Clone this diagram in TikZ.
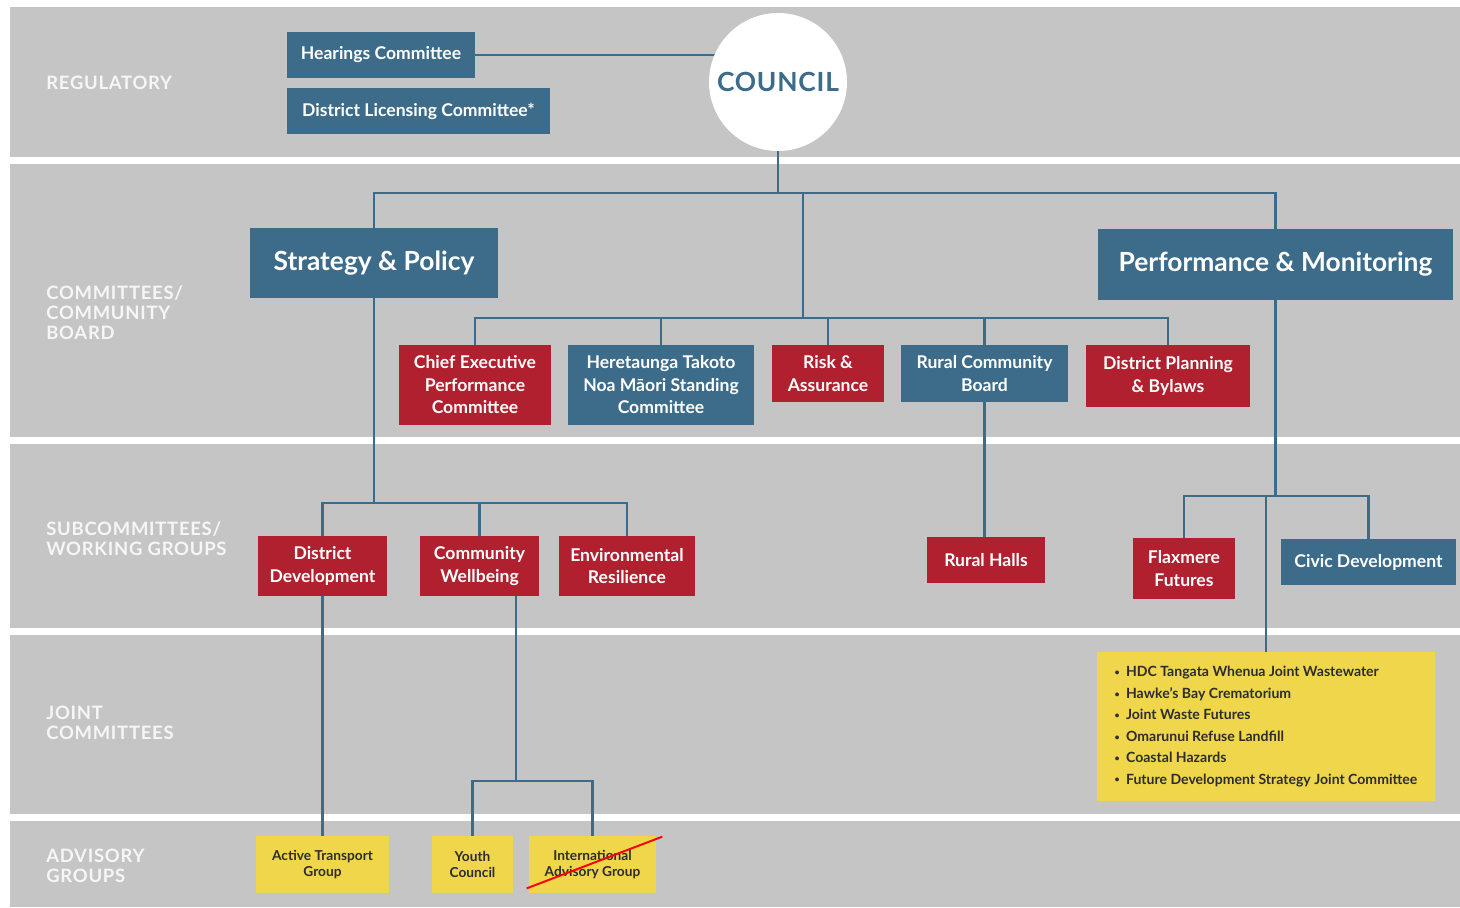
\documentclass[tikz,border=0pt]{standalone}
\usepackage{fontspec}
\setmainfont{Lato}
\usetikzlibrary{calc}
\definecolor{hblue}{RGB}{61,107,138}
\definecolor{hred}{RGB}{176,32,46}
\definecolor{hyellow}{RGB}{240,214,74}
\definecolor{hgray}{RGB}{197,197,197}
\definecolor{htext}{RGB}{45,45,45}
\definecolor{hlabel}{RGB}{246,246,246}
\pgfdeclarelayer{bg}
\pgfsetlayers{bg,main}
\tikzset{
  bx/.style n args={4}{minimum width={(#3-#1)*0.02cm}, minimum height={(#4-#2)*0.02cm}, at={({(#1+#3)/2},{(#2+#4)/2})}},
  box/.style={inner sep=0pt, text=white, align=center, font=\bfseries\fontsize{10}{12.8}\selectfont},
  bluebox/.style={box, fill=hblue},
  redbox/.style={box, fill=hred},
  bigbox/.style={box, fill=hblue, font=\bfseries\fontsize{15}{18}\selectfont},
  ybox/.style={inner sep=0pt, fill=hyellow, text=htext, align=center, font=\bfseries\fontsize{7.8}{9.5}\selectfont},
  conn/.style={draw=hblue, line width=1.6pt},
  band/.style={fill=hgray},
  rowlabel/.style={anchor=west, inner sep=0pt, text=hlabel, align=left, font=\bfseries\fontsize{10.5}{11.4}\selectfont\addfontfeatures{LetterSpace=4}},
  strike/.style={draw=red, line width=1.1pt},
}
\newcommand{\bul}{\raisebox{0.15ex}{\fontsize{5}{5}\selectfont\textbullet}\hspace{0.45em}}
\begin{document}
\begin{tikzpicture}[x=0.02cm, y=-0.02cm]
\useasboundingbox (0,0) rectangle (1460,907);
\begin{pgfonlayer}{bg}
\fill[white] (0,0) rectangle (1460,907);
\fill[band] (10,7) rectangle (1460,157);
\fill[band] (10,164) rectangle (1460,437);
\fill[band] (10,444) rectangle (1460,628);
\fill[band] (10,635) rectangle (1460,814);
\fill[band] (10,821) rectangle (1460,907);
\end{pgfonlayer}

% row labels
\node[rowlabel] (l1) at (46,83) {REGULATORY};
\node[rowlabel] (l2) at (46,313) {COMMITTEES/\\COMMUNITY\\BOARD};
\node[rowlabel] (l3) at (46,539) {SUBCOMMITTEES/\\WORKING GROUPS};
\node[rowlabel] (l4) at (46,723) {JOINT\\COMMITTEES};
\node[rowlabel] (l5) at (46,866) {ADVISORY\\GROUPS};

% regulatory
\node[bluebox, bx={287}{32}{475}{78}] (hear) {Hearings Committee};
\node[bluebox, bx={287}{88}{550}{134}] (dlc) {District Licensing Committee*};
\node[circle, fill=white, minimum size=2.76cm, inner sep=0pt, text=hblue,
      font=\bfseries\fontsize{15}{18}\selectfont\addfontfeatures{LetterSpace=3}] (council) at (778,82) {COUNCIL};

% committees
\node[bigbox, bx={250}{228}{498}{298}] (sp) {Strategy \& Policy};
\node[bigbox, bx={1098}{229}{1453}{300}] (pm) {Performance \& Monitoring};
\node[redbox, bx={399}{345}{551}{425}] (ceo) {Chief Executive\\Performance\\Committee};
\node[bluebox, bx={568}{345}{754}{425}] (mao) {Heretaunga Takoto\\Noa Māori Standing\\Committee};
\node[redbox, bx={772}{345}{884}{402}] (risk) {Risk \&\\Assurance};
\node[bluebox, bx={901}{345}{1068}{402}] (rcb) {Rural Community\\Board};
\node[redbox, bx={1086}{345}{1250}{407}] (dpb) {District Planning\\\& Bylaws};

% subcommittees
\node[redbox, bx={258}{536}{387}{596}] (dd) {District\\Development};
\node[redbox, bx={420}{536}{539}{596}] (cw) {Community\\Wellbeing};
\node[redbox, bx={559}{536}{695}{596}] (er) {Environmental\\Resilience};
\node[redbox, bx={927}{537}{1045}{583}] (rh) {Rural Halls};
\node[redbox, bx={1133}{538}{1235}{599}] (ff) {Flaxmere\\Futures};
\node[bluebox, bx={1281}{539}{1456}{585}] (cd) {Civic Development};

% joint
\node[ybox, bx={1097}{652}{1435}{801}, align=left,
      font=\bfseries\fontsize{8}{12.2}\selectfont] (joint)
 {\bul HDC Tangata Whenua Joint Wastewater\\
  \bul Hawke’s Bay Crematorium\\
  \bul Joint Waste Futures\\
  \bul Omarunui Refuse Landfill\\
  \bul Coastal Hazards\\
  \bul Future Development Strategy Joint Committee};

% advisory
\node[ybox, bx={256}{836}{389}{893}] (atg) {Active Transport\\Group};
\node[ybox, bx={432}{836}{513}{893}] (yc) {Youth\\Council};
\node[ybox, bx={529}{836}{656}{893}] (iag) {International\\Advisory Group};
\draw[strike] ([shift={(-2,-5)}]iag.south west) -- ([shift={(6,1)}]iag.north east);

% connectors
\coordinate (b1) at (777,193);
\coordinate (b2) at (803,318);
\coordinate (b3) at (374,503);
\coordinate (b4) at (1276,496);
\coordinate (jt) at (1266,496);
\coordinate (b5) at (516,781);
\begin{pgfonlayer}{bg}
\draw[conn] (hear.east) -- (council.center |- hear.east);
\draw[conn] (council.center) -- (council.center |- b1);
\draw[conn] (sp.north) -- (sp.north |- b1) -- (pm.north |- b1) -- (pm.north);
\draw[conn] (b2 |- b1) -- (b2);
\draw[conn] (ceo.north) -- (ceo.north |- b2) -- (dpb.north |- b2) -- (dpb.north);
\draw[conn] (mao.north) -- (mao.north |- b2);
\draw[conn] (risk.north) -- (risk.north |- b2);
\draw[conn] (rcb.north) -- (rcb.north |- b2);
\draw[conn] (sp.south) -- (sp.south |- b3);
\draw[conn] (dd.north) -- (dd.north |- b3) -- (er.north |- b3) -- (er.north);
\draw[conn] (cw.north) -- (cw.north |- b3);
\draw[conn] (rcb.south) -- (rcb.south |- rh.north);
\draw[conn] (pm.south) -- (pm.south |- b4);
\draw[conn] (ff.north) -- (ff.north |- b4) -- (cd.north |- b4) -- (cd.north);
\draw[conn] (jt) -- (jt |- joint.north);
\draw[conn] (dd.south) -- (dd.south |- atg.north);
\draw[conn] (b5 |- cw.south) -- (b5);
\draw[conn] (yc.north) -- (yc.north |- b5) -- (iag.north |- b5) -- (iag.north);
\end{pgfonlayer}
\end{tikzpicture}
\end{document}
